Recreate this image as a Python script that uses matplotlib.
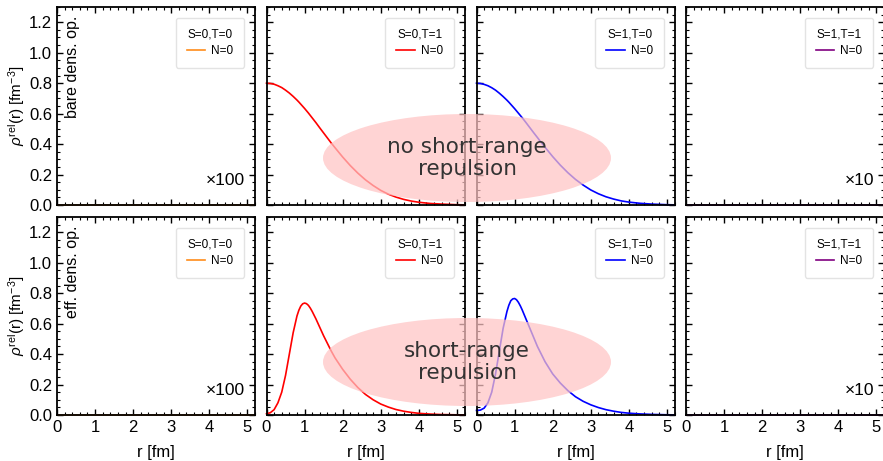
import numpy as np
import matplotlib
matplotlib.use("Agg")
import matplotlib.pyplot as plt
from matplotlib.patches import Ellipse
from matplotlib.ticker import MultipleLocator, FormatStrFormatter

plt.rcParams['font.family'] = ['Liberation Sans', 'DejaVu Sans']
plt.rcParams['mathtext.fontset'] = 'custom'
plt.rcParams['mathtext.rm'] = 'Liberation Sans'
plt.rcParams['mathtext.it'] = 'Liberation Sans:italic'

# relative distance grid [fm]
r = [0.0, 0.1, 0.2, 0.3, 0.4, 0.5, 0.6, 0.7, 0.8, 0.85, 0.9, 0.95, 1.0, 1.05,
     1.1, 1.15, 1.2, 1.3, 1.4, 1.5, 1.6, 1.7, 1.8, 2.0, 2.2, 2.4, 2.6, 2.8, 3.0,
     3.2, 3.4, 3.6, 3.8, 4.0, 4.3, 4.6, 5.0, 5.2]

# bare density operator
bare_s0t0 = [0.0] * len(r)
bare_s0t1 = [0.800, 0.798, 0.793, 0.783, 0.771, 0.754, 0.735, 0.713, 0.689, 0.676,
             0.662, 0.648, 0.634, 0.619, 0.604, 0.588, 0.572, 0.540, 0.506, 0.473,
             0.440, 0.407, 0.376, 0.315, 0.259, 0.209, 0.165, 0.128, 0.096, 0.071,
             0.052, 0.037, 0.026, 0.018, 0.010, 0.006, 0.002, 0.001]
bare_s1t0 = [0.800, 0.798, 0.792, 0.783, 0.770, 0.754, 0.734, 0.712, 0.688, 0.675,
             0.661, 0.647, 0.633, 0.618, 0.603, 0.588, 0.573, 0.541, 0.508, 0.475,
             0.443, 0.410, 0.379, 0.318, 0.262, 0.212, 0.168, 0.131, 0.099, 0.074,
             0.054, 0.039, 0.027, 0.019, 0.011, 0.006, 0.002, 0.001]
bare_s1t1 = [0.0] * len(r)

# effective density operator
eff_s0t0 = [0.0] * len(r)
eff_s0t1 = [0.008, 0.015, 0.035, 0.080, 0.150, 0.260, 0.400, 0.540, 0.650, 0.688,
            0.715, 0.730, 0.735, 0.731, 0.720, 0.702, 0.680, 0.630, 0.575, 0.520,
            0.470, 0.420, 0.375, 0.300, 0.235, 0.180, 0.135, 0.100, 0.072, 0.052,
            0.036, 0.025, 0.017, 0.011, 0.006, 0.003, 0.0012, 0.0008]
eff_s1t0 = [0.030, 0.032, 0.045, 0.080, 0.150, 0.270, 0.420, 0.570, 0.680, 0.721,
            0.750, 0.762, 0.765, 0.757, 0.740, 0.717, 0.690, 0.630, 0.570, 0.510,
            0.450, 0.400, 0.350, 0.270, 0.210, 0.160, 0.120, 0.090, 0.067, 0.049,
            0.035, 0.025, 0.017, 0.012, 0.007, 0.004, 0.0015, 0.001]
eff_s1t1 = [0.0] * len(r)

channels = ["S=0,T=0", "S=0,T=1", "S=1,T=0", "S=1,T=1"]
colors = ["#ff8c1a", "#ff0000", "#0000ff", "#800080"]
scales = ["\u00d7100", "", "", "\u00d710"]
rows = [[bare_s0t0, bare_s0t1, bare_s1t0, bare_s1t1],
        [eff_s0t0, eff_s0t1, eff_s1t0, eff_s1t1]]
row_names = ["bare dens. op.", "eff. dens. op."]
notes = ["no short-range\nrepulsion", "short-range\nrepulsion"]

W, H = 883, 461
fig = plt.figure(figsize=(W / 100, H / 100), dpi=100)

lefts = [57, 266.5, 476.5, 686]
tops = [7, 217]
aw, ah = 198, 198

for i, row in enumerate(rows):
    for j, y in enumerate(row):
        ax = fig.add_axes([lefts[j] / W, 1 - (tops[i] + ah) / H, aw / W, ah / H])
        ax.plot(r, y, color=colors[j], lw=1.2, label="N=0", clip_on=False)
        ax.set_xlim(0, 5.2)
        ax.set_ylim(0, 1.3)
        ax.xaxis.set_major_locator(MultipleLocator(1))
        ax.xaxis.set_minor_locator(MultipleLocator(0.2))
        ax.yaxis.set_major_locator(MultipleLocator(0.2))
        ax.yaxis.set_minor_locator(MultipleLocator(0.05))
        ax.tick_params(which='both', direction='in', top=True, right=True,
                       labelsize=12)
        ax.tick_params(which='major', length=4, width=1)
        ax.tick_params(which='minor', length=2, width=0.8)
        for s in ax.spines.values():
            s.set_linewidth(1.3)
        if j > 0:
            ax.set_yticklabels([])
        else:
            ax.yaxis.set_major_formatter(FormatStrFormatter('%.1f'))
            ax.set_ylabel(r"$\rho^{\mathrm{rel}}$(r) [fm$^{-3}$]", fontsize=11)
            ax.yaxis.set_label_coords(-0.15, 0.5)
            ax.text(0.077, 0.955, row_names[i], rotation=90, ha='center', va='top',
                    transform=ax.transAxes, fontsize=11.5)
        if i == 0:
            ax.set_xticklabels([])
        else:
            ax.set_xlabel("r [fm]", fontsize=12, labelpad=7)
        if scales[j]:
            ax.text(0.95, 0.085, scales[j], ha='right', va='bottom',
                    transform=ax.transAxes, fontsize=12.5)
        leg = ax.legend(loc='upper right', title=channels[j], fontsize=8.5,
                        title_fontsize=8.5, frameon=True, fancybox=True,
                        handlelength=1.6, handletextpad=0.5, borderpad=0.9,
                        labelspacing=0.4, bbox_to_anchor=(0.975, 0.975))
        leg.get_frame().set_edgecolor('#dddddd')
        leg.get_frame().set_linewidth(1.0)

# overlay with the two highlighted regions
ov = fig.add_axes([0, 0, 1, 1], zorder=10)
ov.set_xlim(0, W)
ov.set_ylim(H, 0)
ov.axis('off')
for cy, note in zip([158, 362], notes):
    ov.add_patch(Ellipse((467, cy), 288, 88, facecolor='#ffc4c4', alpha=0.72,
                         edgecolor='none'))
    ov.text(467, cy, note, ha='center', va='center', fontsize=15.5,
            color='#333333', family='DejaVu Sans', linespacing=1.15)

fig.savefig("out.png", dpi=100)
